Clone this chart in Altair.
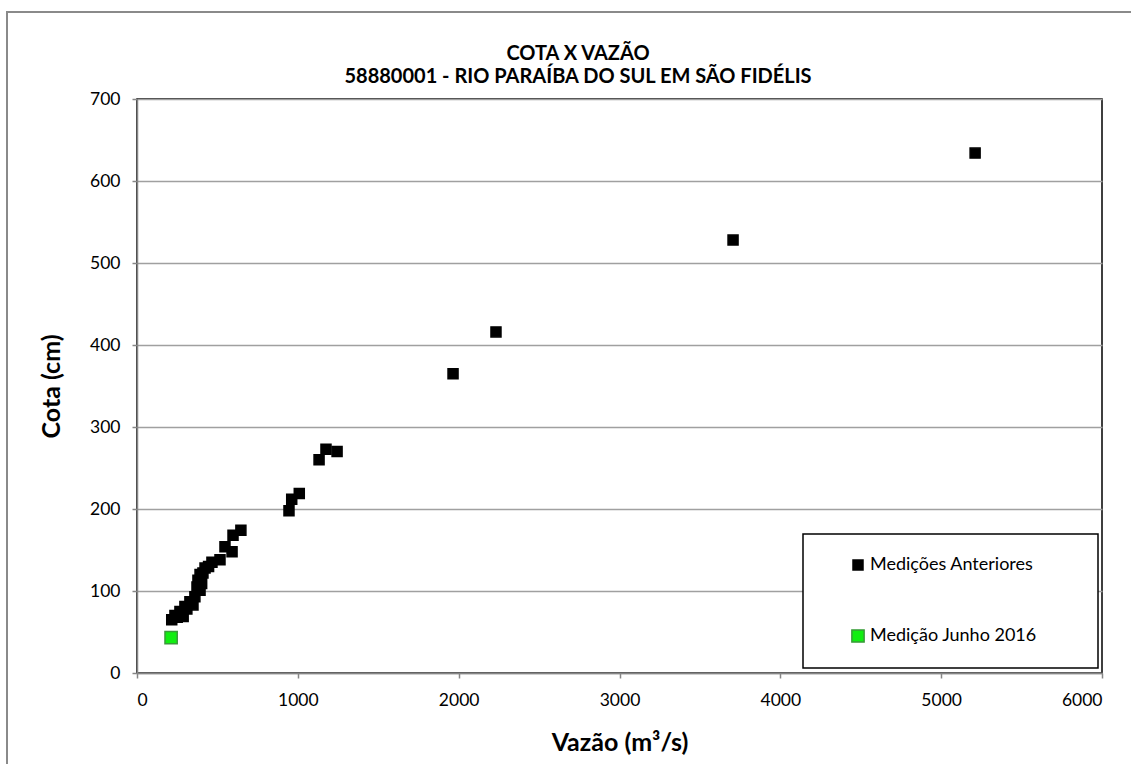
import altair as alt
import pandas as pd

# ---- data ----
vazao_ant = [5211, 3706, 2232, 1965, 1244, 1175, 1132, 1009, 962, 945,
             646, 597, 547, 591, 516, 466, 423, 392, 379, 373,
             402, 392, 360, 348, 329, 298, 287, 267, 236, 216,
             410, 445, 310, 250]
cota_ant = [634, 528, 416, 365, 270, 273, 260, 219, 212, 198,
            174, 168, 154, 148, 138, 135, 128, 120, 113, 105,
            109, 101, 93, 83, 87, 81, 69, 75, 70, 65,
            122, 130, 78, 68]
vazao_jun = [212]
cota_jun = [43]
series = ["Medições Anteriores", "Medição Junho 2016"]
x_ticks = [0, 1000, 2000, 3000, 4000, 5000, 6000]
y_ticks = [0, 100, 200, 300, 400, 500, 600, 700]

df = pd.DataFrame({
    "vazao": vazao_ant + vazao_jun,
    "cota": cota_ant + cota_jun,
    "serie": [series[0]] * len(vazao_ant) + [series[1]] * len(vazao_jun),
})

FONT = "Lato"

frame = alt.Chart(pd.DataFrame({"a": [0]})).mark_rect(
    fill="white", fillOpacity=0, stroke="#8a8a8a", strokeWidth=2
).encode(
    x=alt.value(-130), x2=alt.value(1012), y=alt.value(-87), y2=alt.value(720)
)

points = alt.Chart(df).mark_point(shape="square", filled=True, opacity=1, strokeWidth=1.5).encode(
    x=alt.X("vazao:Q",
            scale=alt.Scale(domain=[0, 6000], nice=False, zero=True),
            axis=alt.Axis(values=x_ticks, format="d", title="Vazão (m³/s)", grid=False,
                          labelPadding=13, titlePadding=22)),
    y=alt.Y("cota:Q",
            scale=alt.Scale(domain=[0, 700], nice=False),
            axis=alt.Axis(values=y_ticks, format="d", title="Cota (cm)", grid=True,
                          labelPadding=12, titlePadding=25)),
    color=alt.Color("serie:N",
                    scale=alt.Scale(domain=series, range=["#000000", "#11ee11"]),
                    legend=alt.Legend(
                        title=None, orient="none", legendX=666, legendY=435,
                        padding=22, symbolOffset=24, rowPadding=52,
                        labelFont=FONT, labelFontSize=18, labelColor="#000000",
                        labelOffset=3, labelLimit=500,
                        labelExpr="datum.label + '\u2800\u2800\u2800'",
                        strokeColor="#000000", fillColor="#ffffff",
                        symbolType="square")),
    size=alt.Size("serie:N", scale=alt.Scale(domain=series, range=[100, 150])),
    stroke=alt.Stroke("serie:N", scale=alt.Scale(domain=series, range=["#000000", "#3a9a3a"])),
)

chart = alt.layer(frame, points).properties(
    width=965, height=574,
    title=alt.Title(["COTA X VAZÃO", "58880001 - RIO PARAÍBA DO SUL EM SÃO FIDÉLIS"],
                    font=FONT, fontSize=20, fontWeight="bold", color="#000000",
                    anchor="middle", frame="bounds", offset=-76, lineHeight=23),
    padding={"left": 137, "top": 99, "right": 29, "bottom": 91},
    autosize=alt.AutoSizeParams(type="none"),
    background="white",
).configure_view(
    stroke="#000000", strokeWidth=1.5
).configure_axis(
    labelFont=FONT, labelFontSize=17.5, labelColor="#000000",
    titleFont=FONT, titleFontSize=25, titleFontWeight="bold", titleColor="#000000",
    domainColor="#868686", domainWidth=1.5,
    tickColor="#868686", tickSize=5, tickWidth=1.5,
    gridColor="#a0a0a0", gridWidth=1.5,
).configure_legend(
    strokeWidth=1.5
)

chart.save("out.html", embed_options={"renderer": "svg", "actions": False})
